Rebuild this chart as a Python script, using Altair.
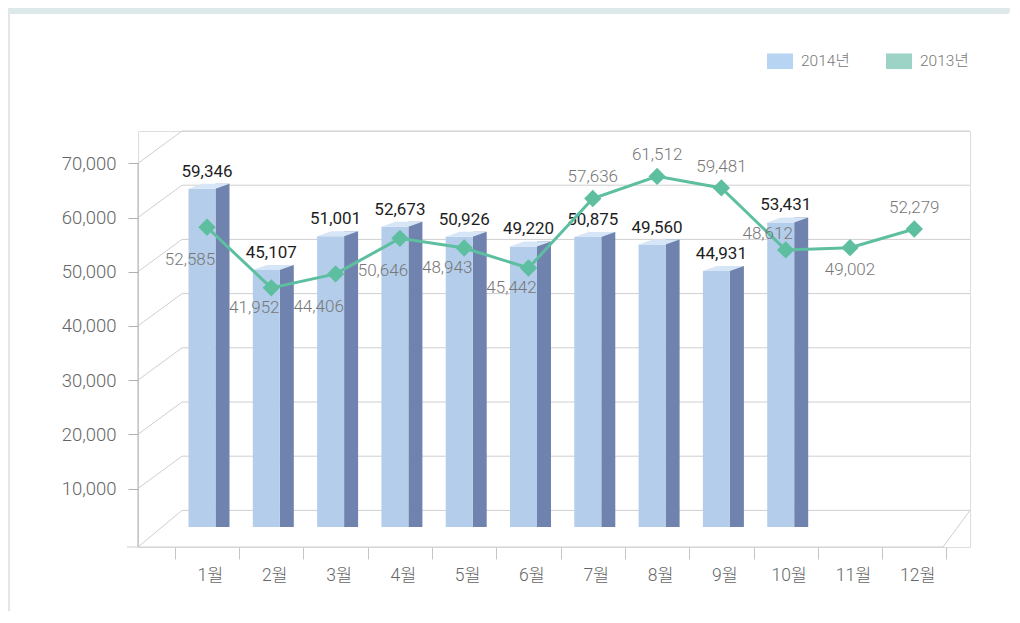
import altair as alt
import pandas as pd

# ---------------- data ----------------
months = ["1월", "2월", "3월", "4월", "5월", "6월", "7월", "8월", "9월", "10월", "11월", "12월"]
series_names = ["2014년", "2013년"]
values_2014 = [59346, 45107, 51001, 52673, 50926, 49220, 50875, 49560, 44931, 53431, None, None]
values_2013 = [52585, 41952, 44406, 50646, 48943, 45442, 57636, 61512, 59481, 48612, 49002, 52279]
label_side_2013 = ["low", "mid", "low", "low", "mid", "mid", "above", "above", "above", "upleft", "below", "above"]
y_ticks = [10000, 20000, 30000, 40000, 50000, 60000, 70000]

# ---------------- layout / style ----------------
W, H = 832, 416
FONT = "Roboto, 'Noto Sans CJK KR', sans-serif"
LIGHT = 300

# data scale (bars & line)
PX_DATA = 0.0057
DATA_ZERO = 396.0
data_scale = alt.Scale(domain=[-(H - DATA_ZERO) / PX_DATA, DATA_ZERO / PX_DATA], zero=False, nice=False)

# front-plane scale (axis labels) and back wall (shifted)
FRONT_PX = 379.4 / 70000
FRONT_ZERO = 411.7
front_domain = [-(H - FRONT_ZERO) / FRONT_PX, FRONT_ZERO / FRONT_PX]
front_scale = alt.Scale(domain=front_domain, zero=False, nice=False)
BACK_SHIFT = FRONT_ZERO / FRONT_PX - 70000
FLOOR = front_domain[0]

x_scale = alt.Scale(domain=months, paddingInner=0, paddingOuter=0.4697, align=0.6101)
x_axis = alt.Axis(title=None, domain=False, grid=False, tickBand="extent", tickSize=12,
                  tickColor="#c4c4c4", labelFontSize=17.5, labelColor="#666666", labelPadding=7,
                  labelOffset=3, labelAngle=0, labelFont=FONT, labelFontWeight=LIGHT)
X = alt.X("month:N", sort=months, scale=x_scale, axis=x_axis)

GRID = "#cfcfcf"
AXIS = "#b0b0b0"
BAR_FRONT = "#b4cdeb"
BAR_SIDE = "#6f83ae"
BAR_TOP = "#d6e6f7"
LINE = "#5dbf9f"
LEG_BLUE = "#b7d5f2"
LEG_TEAL = "#9dd3c6"

RECT_PATH = "M-1,-0.6L1,-0.6L1,0.6L-1,0.6Z"
TOP_PATH = "M-1,0.122L0.317,0.122L1,-0.122L-0.317,-0.122Z"

# ---------------- tables ----------------
bars = pd.DataFrame({"month": months, "v": values_2014}).dropna()
bars["side_top"] = bars["v"] + 5 / PX_DATA
line = pd.DataFrame({"month": months, "v": values_2013, "place": label_side_2013})
grid = pd.DataFrame({"v": [0] + y_ticks})
grid["vb"] = grid["v"] + BACK_SHIFT
diag = pd.DataFrame({"v": [FLOOR] + y_ticks, "vb": [BACK_SHIFT] + [t + BACK_SHIFT for t in y_ticks]})
one = pd.DataFrame({"a": [0]})
legend_df = pd.DataFrame({"series": series_names, "month": [months[0]] * 2, "v": [10000, 10000]})

layers = []

# top decorative band and left border
layers.append(alt.Chart(one).mark_rect(color="#dde9e8", cornerRadiusBottomRight=10).encode(
    x=alt.value(-130), x2=alt.value(872), y=alt.value(-123), y2=alt.value(-117)))
layers.append(alt.Chart(one).mark_rule(color="#cccccc", strokeWidth=1).encode(
    x=alt.value(-129), y=alt.value(-117), y2=alt.value(480)))

# back wall gridlines (carry the y axis)
layers.append(alt.Chart(grid).mark_rule(color=GRID, strokeWidth=1).encode(
    x=alt.value(44), x2=alt.value(W),
    y=alt.Y("vb:Q", scale=front_scale,
            axis=alt.Axis(values=y_ticks, format=",d", title=None, domain=False, grid=False,
                          tickSize=10, tickColor=AXIS, labelFontSize=18.5, labelColor="#666666",
                          labelPadding=12, labelFont=FONT, labelFontWeight=LIGHT))))

# left wall diagonals
layers.append(alt.Chart(diag).mark_rule(color=GRID, strokeWidth=1).encode(
    x=alt.value(0), x2=alt.value(44),
    y=alt.Y("v:Q", scale=front_scale, axis=None), y2="vb:Q"))

# front axis vertical line
layers.append(alt.Chart(one).mark_rule(color=AXIS, strokeWidth=1).encode(
    x=alt.value(0), y=alt.Y("datum_top:Q", scale=front_scale, axis=None), y2=alt.datum(FLOOR)
).transform_calculate(datum_top="70000"))

# floor front edge and right diagonal
layers.append(alt.Chart(one).mark_rule(color=GRID, strokeWidth=1).encode(
    x=alt.value(-11), x2=alt.value(805), y=alt.Y("f:Q", scale=front_scale, axis=None)
).transform_calculate(f=str(FLOOR)))
layers.append(alt.Chart(one).mark_rule(color=GRID, strokeWidth=1).encode(
    x=alt.value(805), x2=alt.value(W), y=alt.Y("f:Q", scale=front_scale, axis=None),
    y2=alt.datum(BACK_SHIFT)
).transform_calculate(f=str(FLOOR)))

# hidden legend carrier (behind bar 1)
layers.append(alt.Chart(legend_df).mark_point(shape=RECT_PATH, filled=True, size=676, opacity=1,
                                              strokeWidth=0, xOffset=-5).encode(
    x=X, y=alt.Y("v:Q", scale=data_scale, axis=None),
    color=alt.Color("series:N", sort=series_names,
                    scale=alt.Scale(domain=series_names, range=[LEG_BLUE, LEG_TEAL]),
                    legend=alt.Legend(orient="none", legendX=629, legendY=-83, direction="horizontal",
                                      title=None, symbolType=RECT_PATH, symbolSize=676,
                                      symbolStrokeWidth=0, symbolOpacity=1, labelFontSize=15.5,
                                      labelColor="#777777", labelOffset=8, columnPadding=36,
                                      padding=0, labelFont=FONT, labelFontWeight=LIGHT))))

# bars: side face, front face, top face
layers.append(alt.Chart(bars).mark_bar(width=14, xOffset=15.5, color=BAR_SIDE).encode(
    x=X, y=alt.Y("side_top:Q", scale=data_scale, axis=None), y2=alt.datum(0)))
layers.append(alt.Chart(bars).mark_bar(width=27, xOffset=-5, color=BAR_FRONT).encode(
    x=X, y=alt.Y("v:Q", scale=data_scale, axis=None), y2=alt.datum(0)))
layers.append(alt.Chart(bars).mark_point(shape=TOP_PATH, size=1681, filled=True, opacity=1,
                                         strokeWidth=0, color=BAR_TOP, xOffset=2, yOffset=-2.5).encode(
    x=X, y=alt.Y("v:Q", scale=data_scale, axis=None)))
layers.append(alt.Chart(bars).mark_text(dy=-17, fontSize=17, color="#1e1e1e", font=FONT,
                                        baseline="middle").encode(
    x=X, y=alt.Y("v:Q", scale=data_scale, axis=None), text=alt.Text("v:Q", format=",")))

# 2013 line
layers.append(alt.Chart(line).mark_line(color=LINE, strokeWidth=3).encode(
    x=X, y=alt.Y("v:Q", scale=data_scale, axis=None)))
layers.append(alt.Chart(line).mark_point(shape="diamond", filled=True, size=300, opacity=1,
                                         color=LINE, strokeWidth=0).encode(
    x=X, y=alt.Y("v:Q", scale=data_scale, axis=None)))

offsets = {"low": (-17, 33), "mid": (-17, 20), "above": (0, -21), "upleft": (-18, -16), "below": (0, 22)}
for place, (dx, dy) in offsets.items():
    sub = line[line["place"] == place]
    layers.append(alt.Chart(sub).mark_text(dx=dx, dy=dy, fontSize=17, color="#777777", font=FONT,
                                           fontWeight=LIGHT, baseline="middle").encode(
        x=X, y=alt.Y("v:Q", scale=data_scale, axis=None), text=alt.Text("v:Q", format=",")))

chart = alt.layer(*layers).resolve_scale(y="independent").properties(
    width=W, height=H,
    autosize=alt.AutoSizeParams(type="none"),
    padding={"left": 130, "top": 123, "right": 42, "bottom": 64},
).configure_view(stroke=None).configure(font=FONT)

chart.save("out.html", embed_options={"renderer": "svg", "actions": False})
